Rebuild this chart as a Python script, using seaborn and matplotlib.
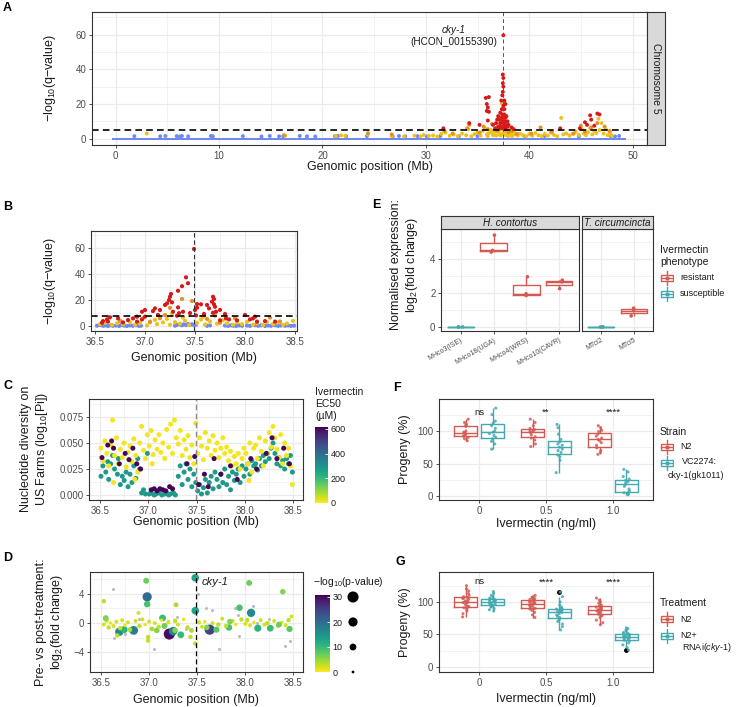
import numpy as np
import pandas as pd
import matplotlib
matplotlib.use("Agg")
import matplotlib as mpl
import matplotlib.pyplot as plt
import seaborn as sns
from matplotlib.ticker import MultipleLocator, FormatStrFormatter
from matplotlib.patches import Rectangle

# ---------------- A: chromosome 5 scan (Mb, -log10 q) ----------------
a_base_pos = [0.0, 0.4, 0.9, 1.4, 1.8, 2.3, 2.8, 3.3, 3.7, 4.2, 4.7, 5.1, 5.6, 6.1, 6.5, 7.0,
              7.5, 8.0, 8.4, 8.9, 9.4, 9.8, 10.3, 10.8, 11.2, 11.7, 12.2, 12.6, 13.1, 13.6,
              14.0, 14.5, 15.0, 15.5, 15.9, 16.4, 16.9, 17.3, 17.8, 18.3, 18.7, 19.2, 19.7,
              20.1, 20.6, 21.1, 21.5, 22.0, 22.5, 23.0, 23.4, 23.9, 24.4, 24.8, 25.3, 25.8,
              26.2, 26.7, 27.2, 27.6, 28.1, 28.6, 29.0, 29.5, 30.0, 30.5, 30.9, 31.4, 31.9,
              32.3, 32.8, 33.3, 33.7, 34.2, 34.7, 35.1, 35.6, 36.1, 36.5, 37.0, 37.5, 38.0,
              38.4, 38.9, 39.4, 39.8, 40.3, 40.8, 41.2, 41.7, 42.2, 42.6, 43.1, 43.6, 44.0,
              44.5, 45.0, 45.5, 45.9, 46.4, 46.9, 47.3, 47.8, 48.3, 48.7, 49.0]
a_blue = [(1.8, 1.5), (4.3, 1.4), (4.8, 1.6), (5.9, 1.5), (6.2, 1.3), (6.4, 1.6), (7.0, 1.4),
          (9.2, 1.6), (9.4, 1.4), (12.3, 1.5), (14.1, 1.3), (14.9, 1.6), (15.8, 1.4),
          (16.2, 1.5), (17.8, 1.6), (18.5, 1.4), (19.3, 1.3), (21.2, 1.5), (21.5, 1.6),
          (22.3, 1.4), (24.3, 1.5), (26.8, 1.3), (27.4, 1.6), (28.0, 1.4), (29.2, 1.5),
          (30.1, 1.3), (31.4, 1.6), (33.2, 1.4), (35.0, 1.5), (39.6, 1.3), (41.5, 1.6),
          (44.8, 1.4), (47.9, 1.5), (48.3, 1.3), (48.7, 1.6)]
a_gold = [(3.0, 3.0), (16.4, 1.8), (21.3, 1.6), (21.8, 2.0), (22.2, 1.7), (24.4, 2.5),
          (26.7, 1.5), (27.9, 1.3), (28.9, 1.8), (29.5, 1.4), (29.8, 2.2), (30.3, 1.6),
          (30.7, 1.9), (31.1, 1.2), (31.5, 2.8), (31.9, 3.5), (32.3, 1.7), (32.7, 2.4),
          (33.1, 1.5), (33.5, 3.0), (33.9, 2.0), (34.1, 5.5), (34.4, 1.4), (34.7, 2.7),
          (35.0, 3.8), (35.3, 1.8), (35.5, 4.5), (35.7, 6.0), (35.9, 2.5), (36.0, 1.5),
          (36.1, 3.2), (36.3, 5.0), (36.4, 3.6), (36.5, 2.0), (36.7, 3.8), (36.8, 1.8),
          (36.9, 6.5), (37.0, 4.0), (37.1, 2.5), (37.15, 3.3), (37.2, 8.0), (37.25, 1.9),
          (37.3, 5.5), (37.35, 20.5), (37.4, 13.0), (37.45, 3.0), (37.5, 2.8), (37.55, 7.5),
          (37.6, 11.0), (37.65, 4.0), (37.7, 2.2), (37.75, 4.5), (37.8, 6.0), (37.9, 3.5),
          (37.95, 1.5), (38.0, 5.0), (38.1, 2.0), (38.2, 3.2), (38.25, 6.5), (38.35, 1.5),
          (38.45, 2.5), (38.5, 4.0), (38.7, 2.5), (38.9, 1.8), (39.1, 3.0), (39.4, 2.0),
          (39.7, 1.4), (40.0, 2.6), (40.3, 1.7), (40.6, 3.3), (40.9, 2.0), (41.2, 1.5),
          (41.5, 2.8), (41.8, 1.8), (42.1, 3.5), (42.4, 2.2), (42.7, 1.5), (43.1, 12.0),
          (43.3, 2.5), (43.6, 3.0), (43.9, 1.8), (44.2, 2.8), (44.5, 4.0), (44.8, 2.2),
          (45.1, 5.5), (45.3, 3.0), (45.5, 2.0), (45.7, 3.8), (45.9, 6.0), (46.1, 2.5),
          (46.3, 4.5), (46.5, 3.2), (46.7, 11.5), (46.8, 5.0), (47.0, 9.0), (47.2, 3.0),
          (47.4, 5.5), (47.6, 2.0), (47.8, 3.5), (48.0, 1.8)]
a_orange = [(16.3, 2.0), (24.4, 3.2), (26.7, 2.5), (31.8, 4.5), (32.6, 3.0), (34.0, 6.0),
            (34.2, 8.0), (35.2, 3.5), (35.6, 7.0), (36.0, 5.5), (36.4, 8.5), (36.9, 4.8),
            (37.1, 7.2), (37.3, 9.5), (37.4, 17.0), (37.5, 12.5), (37.6, 6.5), (37.8, 9.0),
            (38.0, 3.8), (38.3, 4.5), (38.8, 2.8), (40.2, 3.0), (41.1, 6.5), (42.2, 4.0),
            (44.3, 3.0), (45.0, 7.5), (45.4, 4.0), (46.0, 6.5), (46.6, 9.0), (47.3, 7.0),
            (47.8, 4.5)]
a_red = [(37.5, 59.6), (37.45, 37.0), (37.5, 35.0), (37.45, 32.0), (37.5, 30.0), (37.45, 27.0),
         (37.4, 25.0), (35.8, 23.5), (36.1, 24.0), (35.9, 20.0), (36.0, 18.0), (37.3, 22.0),
         (37.6, 22.0), (37.7, 20.0), (37.5, 19.0), (37.35, 17.0), (37.6, 17.0), (35.9, 16.0),
         (36.1, 15.5), (37.2, 15.0), (37.4, 14.0), (37.6, 14.0), (37.8, 13.0), (37.0, 13.0),
         (37.3, 12.0), (37.5, 12.0), (37.7, 12.0), (36.9, 11.0), (37.1, 11.0), (37.4, 10.0),
         (37.6, 10.0), (37.9, 10.0), (36.0, 10.5), (36.8, 9.0), (37.2, 9.0), (37.5, 9.0),
         (37.7, 8.0), (38.0, 8.0), (36.5, 8.0), (37.0, 7.0), (37.3, 7.0), (37.6, 7.0),
         (37.9, 7.0), (38.3, 6.5), (36.7, 6.0), (37.1, 6.0), (37.4, 6.0), (37.7, 5.5),
         (38.5, 5.5), (35.2, 8.0), (34.2, 9.0), (31.7, 6.0), (43.0, 6.0), (45.4, 9.5),
         (45.9, 13.5), (46.0, 11.0), (46.6, 14.5), (46.8, 14.0), (45.6, 8.0), (46.3, 7.5),
         (44.9, 6.0)]
a_threshold = 5.2

# ---------------- B: zoom 36.5-38.5 Mb ----------------
b_blue = [(36.52, 0.3), (36.55, 0.8), (36.58, 0.2), (36.60, 0.5), (36.63, 0.0), (36.66, 0.6),
          (36.68, 0.2), (36.71, 0.4), (36.74, 0.1), (36.76, 0.7), (36.79, 0.3), (36.82, 0.0),
          (36.85, 0.5), (36.88, 0.2), (36.91, 0.6), (36.94, 0.1), (36.96, 0.3), (37.30, 0.3),
          (37.32, 0.9), (37.35, 1.2), (37.37, 0.6), (37.39, 1.4), (37.41, 0.8), (37.43, 1.5),
          (37.45, 1.0), (37.47, 1.3), (37.49, 0.7), (37.51, 1.1), (37.62, 0.2), (37.65, 0.5),
          (37.80, 0.4), (37.83, 0.1), (37.86, 0.6), (37.88, 0.3), (37.91, 0.0), (37.94, 0.5),
          (37.97, 0.2), (38.02, 0.4), (38.05, 0.1), (38.10, 0.6), (38.13, 0.2), (38.16, 0.5),
          (38.20, 0.0), (38.23, 0.4), (38.26, 0.2), (38.30, 0.6), (38.33, 0.1), (38.36, 0.4),
          (38.40, 0.2), (38.43, 0.5), (38.46, 0.1), (38.49, 0.3)]
b_gold = [(36.55, 1.5), (36.60, 2.5), (36.67, 0.8), (36.72, 2.0), (36.78, 1.2), (36.85, 3.0),
          (36.90, 1.0), (36.95, 2.2), (37.02, 0.5), (37.05, 3.5), (37.12, 1.5), (37.18, 2.8),
          (37.22, 5.5), (37.25, 1.0), (37.30, 3.0), (37.35, 1.8), (37.40, 4.0), (37.44, 0.8),
          (37.52, 2.5), (37.56, 5.0), (37.60, 1.2), (37.65, 3.5), (37.72, 1.8), (37.78, 4.5),
          (37.82, 2.0), (37.88, 1.0), (37.92, 2.8), (37.97, 1.5), (38.02, 3.2), (38.08, 1.0),
          (38.12, 2.2), (38.18, 0.8), (38.22, 3.0), (38.28, 1.5), (38.32, 2.5), (38.38, 1.0),
          (38.42, 2.0), (38.48, 4.0), (37.10, 4.8), (36.98, 6.0), (37.58, 7.0), (37.27, 9.5),
          (37.38, 6.5)]
b_orange = [(37.37, 20.8), (37.47, 19.2), (37.25, 14.0), (37.20, 8.5), (37.62, 5.5),
            (37.90, 6.0), (38.25, 6.5), (36.75, 4.0), (37.05, 3.0), (37.75, 2.5), (38.35, 3.5),
            (37.15, 6.0), (37.70, 8.0)]
b_red = [(37.49, 59.2), (37.41, 37.4), (37.43, 32.9), (37.37, 30.6), (37.33, 27.1),
         (37.26, 24.6), (37.25, 22.5), (37.24, 20.0), (37.22, 17.4), (37.20, 16.2),
         (37.10, 13.6), (37.08, 11.5), (37.00, 12.3), (36.97, 11.0), (36.92, 7.2), (36.88, 5.9),
         (37.33, 14.3), (37.28, 11.0), (37.27, 18.2), (37.52, 16.9), (37.52, 14.1), (37.50, 12.3),
         (37.56, 16.7), (37.62, 16.2), (37.68, 22.5), (37.69, 20.7), (37.67, 18.7), (37.69, 16.7),
         (37.70, 14.8), (37.64, 13.6), (37.71, 11.0), (37.68, 10.2), (37.75, 12.4), (37.80, 9.3),
         (37.81, 5.9), (37.75, 4.4), (37.59, 9.3), (37.51, 8.2), (37.45, 10.0), (37.38, 11.0),
         (37.34, 9.9), (37.32, 7.9), (37.13, 8.5), (37.15, 12.3), (37.00, 7.2), (36.97, 5.1),
         (36.92, 3.4), (36.83, 4.6), (36.78, 2.8), (36.73, 5.9), (36.65, 6.7), (36.62, 5.1),
         (36.58, 3.8), (36.57, 2.6), (36.63, 3.4), (38.00, 8.5), (38.08, 5.9), (38.12, 3.4),
         (38.20, 3.8), (38.05, 5.1), (37.92, 4.4), (37.84, 5.1), (38.30, 3.4), (38.10, 7.2)]
b_threshold = 7.7

# ---------------- C: nucleotide diversity, coloured by pool EC50 ----------------
c_ec50 = [12, 285, 610]          # low / mid / high EC50 pools (uM)
c_low = [(36.51, 0.045), (36.53, 0.033), (36.55, 0.052), (36.57, 0.040), (36.59, 0.028),
         (36.61, 0.048), (36.63, 0.072), (36.65, 0.038), (36.67, 0.055), (36.69, 0.030),
         (36.64, 0.012), (36.71, 0.044), (36.73, 0.036), (36.75, 0.050), (36.77, 0.027),
         (36.79, 0.041), (36.81, 0.047), (36.83, 0.032), (36.85, 0.054), (36.87, 0.038),
         (36.89, 0.022), (36.86, 0.015), (36.91, 0.050), (36.93, 0.066), (36.95, 0.043),
         (36.97, 0.035), (36.99, 0.058), (37.01, 0.047), (37.03, 0.062), (37.05, 0.039),
         (37.07, 0.053), (37.09, 0.044), (37.04, 0.030), (37.11, 0.058), (37.13, 0.041),
         (37.15, 0.050), (37.17, 0.035), (37.19, 0.063), (37.21, 0.046), (37.23, 0.068),
         (37.25, 0.040), (37.27, 0.072), (37.29, 0.055), (37.31, 0.049), (37.33, 0.062),
         (37.35, 0.038), (37.37, 0.053), (37.39, 0.044), (37.41, 0.057), (37.43, 0.036),
         (37.45, 0.048), (37.47, 0.030), (37.49, 0.069), (37.51, 0.040), (37.53, 0.055),
         (37.55, 0.047), (37.57, 0.034), (37.59, 0.060), (37.61, 0.045), (37.63, 0.052),
         (37.65, 0.038), (37.67, 0.057), (37.69, 0.043), (37.71, 0.050), (37.73, 0.036),
         (37.75, 0.045), (37.77, 0.055), (37.79, 0.040), (37.81, 0.046), (37.83, 0.033),
         (37.85, 0.042), (37.87, 0.028), (37.89, 0.037), (37.91, 0.030), (37.93, 0.040),
         (37.95, 0.025), (37.97, 0.035), (37.99, 0.045), (38.01, 0.040), (38.03, 0.030),
         (38.05, 0.050), (38.07, 0.022), (38.09, 0.045), (38.04, 0.014), (38.11, 0.048),
         (38.13, 0.035), (38.15, 0.055), (38.17, 0.042), (38.19, 0.028), (38.21, 0.052),
         (38.23, 0.040), (38.25, 0.060), (38.27, 0.046), (38.29, 0.066), (38.31, 0.055),
         (38.33, 0.044), (38.35, 0.036), (38.37, 0.058), (38.39, 0.030), (38.41, 0.050),
         (38.43, 0.038), (38.45, 0.045), (38.47, 0.028), (38.49, 0.010)]
c_mid = [(36.51, 0.018), (36.53, 0.028), (36.56, 0.022), (36.58, 0.032), (36.59, 0.015),
         (36.61, 0.030), (36.63, 0.038), (36.65, 0.025), (36.68, 0.020), (36.69, 0.035),
         (36.71, 0.010), (36.73, 0.018), (36.75, 0.014), (36.77, 0.022), (36.79, 0.008),
         (36.81, 0.020), (36.83, 0.012), (36.85, 0.028), (36.87, 0.016), (36.89, 0.035),
         (36.91, 0.025), (36.93, 0.002), (36.95, 0.005), (36.97, 0.001), (36.99, 0.040),
         (37.01, 0.001), (37.03, 0.002), (37.06, 0.000), (37.08, 0.001), (37.11, 0.002),
         (37.14, 0.000), (37.17, 0.001), (37.19, 0.002), (37.21, 0.000), (37.23, 0.001),
         (37.26, 0.002), (37.28, 0.000), (37.31, 0.018), (37.33, 0.028), (37.35, 0.010),
         (37.37, 0.022), (37.39, 0.030), (37.41, 0.015), (37.43, 0.025), (37.45, 0.008),
         (37.47, 0.020), (37.49, 0.012), (37.51, 0.004), (37.53, 0.010), (37.55, 0.001),
         (37.57, 0.007), (37.59, 0.015), (37.61, 0.002), (37.63, 0.012), (37.65, 0.018),
         (37.67, 0.006), (37.69, 0.022), (37.71, 0.015), (37.73, 0.008), (37.75, 0.020),
         (37.77, 0.012), (37.79, 0.025), (37.81, 0.010), (37.83, 0.018), (37.85, 0.005),
         (37.87, 0.022), (37.89, 0.014), (37.91, 0.020), (37.93, 0.025), (37.95, 0.012),
         (37.97, 0.028), (37.99, 0.018), (38.01, 0.025), (38.03, 0.030), (38.05, 0.020),
         (38.07, 0.033), (38.09, 0.028), (38.11, 0.030), (38.13, 0.024), (38.15, 0.035),
         (38.17, 0.028), (38.19, 0.038), (38.21, 0.032), (38.23, 0.040), (38.25, 0.035),
         (38.27, 0.045), (38.29, 0.050), (38.31, 0.040), (38.33, 0.030), (38.35, 0.036),
         (38.37, 0.028), (38.39, 0.033), (38.41, 0.025), (38.43, 0.035), (38.45, 0.030),
         (38.47, 0.038), (38.49, 0.022)]
c_high = [(36.52, 0.036), (36.58, 0.048), (36.62, 0.052), (36.64, 0.045), (36.70, 0.030),
          (36.76, 0.040), (36.80, 0.034), (36.84, 0.045), (36.88, 0.030), (36.92, 0.025),
          (37.03, 0.005), (37.06, 0.006), (37.09, 0.004), (37.12, 0.006), (37.15, 0.005),
          (37.18, 0.004), (37.22, 0.008), (37.25, 0.006), (37.40, 0.030), (37.48, 0.037),
          (37.52, 0.010), (37.58, 0.020), (37.62, 0.008), (37.68, 0.035), (37.75, 0.020),
          (37.85, 0.028), (37.92, 0.015), (38.06, 0.035), (38.12, 0.025), (38.22, 0.040),
          (38.28, 0.055), (38.33, 0.035), (38.40, 0.045), (38.46, 0.030)]

# ---------------- D: pre vs post treatment fold change ----------------
d_sig = [(37.48, 6.2, 13), (36.97, 5.8, 7), (36.98, 3.6, 20), (36.98, 2.6, 9), (36.53, 3.0, 3),
         (37.28, 2.5, 4), (38.04, 5.5, 7), (38.39, 4.3, 6), (37.94, 2.1, 9), (38.06, 1.4, 16),
         (37.48, 1.7, 13), (36.89, 1.4, 2), (37.14, 0.7, 10), (37.21, -1.5, 30), (37.25, -1.1, 17),
         (37.63, -0.9, 25), (36.84, -1.0, 18), (36.69, -1.2, 16), (36.74, -0.9, 11),
         (37.33, -1.6, 10), (38.13, -0.7, 11), (38.26, -0.7, 10), (38.46, -0.8, 8),
         (37.83, -0.6, 9), (37.70, -0.9, 8), (36.55, 0.6, 6), (36.99, -1.9, 3), (36.99, -2.4, 3),
         (37.43, -1.9, 3), (37.48, -2.8, 3), (36.67, -1.7, 3), (37.08, -1.0, 6), (37.60, -0.6, 6),
         (37.27, -1.0, 6), (36.53, -0.2, 2), (36.56, 0.3, 2), (36.58, -0.6, 3), (36.60, 0.0, 1),
         (36.63, -0.4, 2), (36.66, 0.2, 2), (36.70, -0.7, 3), (36.72, 0.4, 2), (36.75, -0.3, 1),
         (36.78, 0.1, 2), (36.80, -0.9, 4), (36.86, 0.3, 2), (36.90, -0.4, 3), (36.93, 0.5, 2),
         (36.96, -0.2, 1), (37.00, 0.2, 2), (37.03, -0.8, 4), (37.06, 0.0, 2), (37.10, -0.5, 3),
         (37.13, 0.4, 1), (37.17, -0.3, 2), (37.20, 0.1, 2), (37.27, 0.3, 3), (37.30, -0.2, 2),
         (37.36, 0.5, 1), (37.40, -0.6, 3), (37.44, -1.0, 4), (37.52, 0.1, 2), (37.55, -0.5, 2),
         (37.58, 0.2, 1), (37.66, 0.0, 2), (37.72, -0.2, 3), (37.76, 0.6, 2), (37.80, -0.4, 3),
         (37.87, 0.3, 2), (37.90, -0.2, 1), (37.96, 0.5, 3), (38.00, -0.1, 2), (38.02, 0.4, 3),
         (38.05, -0.3, 2), (38.09, 0.1, 1), (38.16, 0.4, 2), (38.20, -0.2, 2), (38.23, 0.0, 3),
         (38.30, 0.3, 2), (38.34, -0.4, 2), (38.38, 0.1, 1), (38.42, -0.3, 2), (38.45, 0.4, 3),
         (38.48, 0.9, 2), (36.55, 0.7, 6), (37.16, -0.4, 7), (37.84, 0.2, 6), (38.35, -0.2, 7)]
d_ns = [(36.62, 4.7), (37.59, 2.0), (37.51, 4.0), (37.05, -3.5), (37.73, -3.6), (38.41, -3.1),
        (38.47, -2.4), (37.89, 2.1), (37.92, 1.1), (37.93, -1.7), (37.29, 0.9), (36.64, -2.0),
        (36.90, 0.5), (38.12, 0.0), (37.20, 0.3), (37.65, 1.8), (38.08, 2.4), (38.25, 0.5),
        (36.75, -1.5), (37.38, -0.8)]

# ---------------- E: cky-1 expression ----------------
e_hc_strains = ["MHco3(ISE)", "MHco18(UGA)", "MHco4(WRS)", "MHco10(CAVR)"]
e_tc_strains = ["MTci2", "MTci5"]
e_phenotype = {"MHco3(ISE)": "susceptible", "MHco18(UGA)": "resistant", "MHco4(WRS)": "resistant",
               "MHco10(CAVR)": "resistant", "MTci2": "susceptible", "MTci5": "resistant"}
e_mhco3 = [0.0, 0.0, 0.0]
e_mhco18 = [4.40, 4.50, 5.40]
e_mhco4 = [1.85, 1.95, 2.95]
e_mhco10 = [2.25, 2.65, 2.75]
e_mtci2 = [0.0, 0.0, 0.0]
e_mtci5 = [0.65, 0.95, 1.10]

# ---------------- F / G: C. elegans progeny on ivermectin ----------------
doses = ["0", "0.5", "1.0"]
f_n2_0 = [85, 88, 90, 92, 93, 95, 96, 97, 98, 100, 107, 109, 110, 113, 118]
f_vc_0 = [72, 80, 84, 88, 90, 93, 96, 98, 100, 104, 108, 112, 115, 125, 135]
f_n2_05 = [76, 80, 86, 89, 91, 94, 97, 99, 100, 101, 102, 104, 108, 113, 118]
f_vc_05 = [36, 55, 60, 63, 67, 70, 72, 75, 78, 80, 83, 87, 95, 105, 110]
f_n2_10 = [64, 67, 70, 74, 78, 82, 85, 87, 89, 92, 95, 99, 101, 105, 108]
f_vc_10 = [2, 3, 5, 6, 8, 11, 15, 18, 20, 22, 24, 26, 30, 37, 41]
f_signif = ["ns", "**", "****"]

g_n2_0 = [77, 82, 86, 89, 91, 92, 93, 94, 96, 98, 99, 100, 101, 102, 104, 105, 106, 107, 108,
          110, 113, 117, 120, 125]
g_rnai_0 = [86, 88, 90, 92, 93, 94, 95, 96, 97, 98, 99, 99, 100, 101, 102, 103, 104, 104, 105,
            106, 108, 110, 113, 116]
g_n2_05 = [76, 80, 84, 87, 89, 90, 91, 93, 94, 95, 96, 97, 98, 99, 100, 101, 102, 103, 104,
           105, 106, 107, 108, 110]
g_rnai_05 = [57, 62, 66, 70, 73, 75, 76, 78, 80, 82, 84, 85, 85, 86, 87, 88, 89, 89, 90, 92,
             95, 100, 108, 115]
g_n2_10 = [65, 68, 72, 76, 79, 80, 81, 82, 84, 85, 86, 87, 88, 89, 90, 91, 92, 93, 94, 95, 98,
           100, 103, 106]
g_rnai_10 = [26, 30, 34, 37, 40, 41, 42, 43, 44, 45, 45, 46, 47, 47, 48, 49, 50, 51, 52, 53,
             55, 57, 59, 60]
g_signif = ["ns", "****", "****"]

# ---------------- style ----------------
BLUE, GOLD, ORANGE, RED = "#7089F2", "#EEC21B", "#E58F26", "#D7191C"
C_RED, C_TEAL = "#D35A53", "#43A9AE"
plt.rcParams["font.family"] = "Liberation Sans"
plt.rcParams["mathtext.fontset"] = "custom"
plt.rcParams["mathtext.rm"] = "Liberation Sans"
plt.rcParams["mathtext.it"] = "Liberation Sans:italic"

W, H = 739, 707
fig = plt.figure(figsize=(W / 100, H / 100), dpi=100)


def px_axes(l, t, r, b):
    return fig.add_axes([l / W, 1 - b / H, (r - l) / W, (b - t) / H])


def ftext(x, y, s, **kw):
    kw.setdefault("color", "#1A1A1A")
    fig.text(x / W, 1 - y / H, s, **kw)


def theme_bw(ax, xmaj=None, xmin=None, ymaj=None, ymin=None):
    ax.set_facecolor("white")
    for sp in ax.spines.values():
        sp.set_color("#333333")
        sp.set_linewidth(0.8)
    if xmaj:
        ax.xaxis.set_major_locator(MultipleLocator(xmaj))
    if xmin:
        ax.xaxis.set_minor_locator(MultipleLocator(xmin))
    if ymaj:
        ax.yaxis.set_major_locator(MultipleLocator(ymaj))
    if ymin:
        ax.yaxis.set_minor_locator(MultipleLocator(ymin))
    ax.grid(True, which="major", color="#EBEBEB", linewidth=0.9)
    ax.grid(True, which="minor", color="#EBEBEB", linewidth=0.45)
    ax.set_axisbelow(True)
    ax.tick_params(which="major", length=2.5, width=0.6, color="#333333",
                   labelcolor="#4D4D4D", labelsize=7, pad=1.5)
    ax.tick_params(which="minor", length=0)
    ax.set_xlabel("")
    ax.set_ylabel("")


def scan_df(groups):
    frames = [pd.DataFrame(pts, columns=["pos", "q"]).assign(cls=name) for name, pts in groups]
    return pd.concat(frames, ignore_index=True)


scan_pal = {"blue": BLUE, "gold": GOLD, "orange": ORANGE, "red": RED}
flat_marker = [(-1, -0.28), (1, -0.28), (1, 0.28), (-1, 0.28)]

# ---------------- panel A ----------------
axA = px_axes(92, 12, 647, 145)
sns.scatterplot(x=a_base_pos, y=[0.0] * len(a_base_pos), marker=flat_marker, s=34, color=BLUE,
                linewidth=0, ax=axA)
a_df = scan_df([("blue", a_blue), ("gold", a_gold), ("orange", a_orange), ("red", a_red)])
sns.scatterplot(data=a_df, x="pos", y="q", hue="cls", palette=scan_pal, s=8, linewidth=0,
                legend=False, ax=axA)
axA.axhline(a_threshold, color="black", lw=1.2, ls=(0, (4, 2.5)))
axA.axvline(37.5, color="#555555", lw=0.7, ls=(0, (4, 3)))
axA.text(32.7, 62.5, "cky-1", style="italic", ha="center", va="center", fontsize=7.2, color="#1A1A1A")
axA.text(32.7, 55.5, "(HCON_00155390)", ha="center", va="center", fontsize=7.2, color="#1A1A1A")
axA.set_xlim(-2.3, 51.4)
axA.set_ylim(-3.6, 73)
theme_bw(axA, 10, 5, 20, 10)
stA = px_axes(647, 12, 665, 145)
stA.set_facecolor("#D9D9D9")
stA.set_xticks([])
stA.set_yticks([])
for sp in stA.spines.values():
    sp.set_color("#333333")
    sp.set_linewidth(0.8)
stA.text(0.5, 0.5, "Chromosome 5", rotation=-90, ha="center", va="center", fontsize=7.5,
         color="#1A1A1A", transform=stA.transAxes)
ftext(370, 167, "Genomic position (Mb)", ha="center", va="center", fontsize=9)
ftext(50, 78, "\u2212log$_{10}$(q\u2212value)", ha="center", va="center", rotation=90, fontsize=9)

# ---------------- panel B ----------------
axB = px_axes(91, 231, 297, 331)
b_df = scan_df([("blue", b_blue), ("gold", b_gold), ("orange", b_orange), ("red", b_red)])
sns.scatterplot(data=b_df, x="pos", y="q", hue="cls", palette=scan_pal, s=9, linewidth=0,
                legend=False, ax=axB)
axB.axhline(b_threshold, color="black", lw=1.2, ls=(0, (4, 2.5)))
axB.axvline(37.49, color="#333333", lw=0.8, ls=(0, (4, 2.5)))
axB.set_xlim(36.46, 38.52)
axB.set_ylim(-3.8, 73)
theme_bw(axB, 0.5, 0.25, 20, 10)
axB.xaxis.set_major_formatter(FormatStrFormatter("%.1f"))
ftext(194, 358, "Genomic position (Mb)", ha="center", va="center", fontsize=9)
ftext(50, 281, "\u2212log$_{10}$(q\u2212value)", ha="center", va="center", rotation=90, fontsize=9)

# ---------------- panel C ----------------
axC = px_axes(89, 399, 303, 500)
c_df = pd.concat([pd.DataFrame(pts, columns=["pos", "pi"]).assign(ec50=v)
                  for pts, v in [(c_mid, c_ec50[1]), (c_low, c_ec50[0]), (c_high, c_ec50[2])]],
                 ignore_index=True)
sns.scatterplot(data=c_df, x="pos", y="pi", hue="ec50", palette="viridis_r", hue_norm=(0, 615),
                s=13, linewidth=0, legend=False, ax=axC)
axC.axvline(37.49, color="#8C8C8C", lw=1.0, ls=(0, (4, 2.5)))
axC.set_xlim(36.386, 38.60)
axC.set_ylim(-0.0048, 0.0923)
theme_bw(axC, 0.5, 0.25, 0.025, 0.0125)
axC.xaxis.set_major_formatter(FormatStrFormatter("%.1f"))
axC.yaxis.set_major_formatter(FormatStrFormatter("%.3f"))
ftext(196, 522, "Genomic position (Mb)", ha="center", va="center", fontsize=9)
ftext(35, 449, "Nucleotide diversity on\nUS Farms (log$_{10}$[Pi])", ha="center", va="center",
      rotation=90, fontsize=9, linespacing=1.25)
caxC = px_axes(315, 427, 328, 503)
cbC = fig.colorbar(mpl.cm.ScalarMappable(norm=mpl.colors.Normalize(0, 615), cmap="viridis_r"),
                   cax=caxC, ticks=[0, 200, 400, 600])
cbC.outline.set_visible(False)
caxC.tick_params(labelsize=6.5, length=2.5, width=0.6, color="white", direction="in", pad=2,
                 labelcolor="#1A1A1A")
ftext(315, 392, "Ivermectin", ha="left", va="center", fontsize=7.5)
ftext(315, 404, "EC50", ha="left", va="center", fontsize=7.5)
ftext(315, 416, "(\u00b5M)", ha="left", va="center", fontsize=7.5)

# ---------------- panel D ----------------
axD = px_axes(90, 572, 303, 672)
dns_df = pd.DataFrame(d_ns, columns=["pos", "fc"])
sns.scatterplot(data=dns_df, x="pos", y="fc", color="#BDBDBD", s=5, linewidth=0, ax=axD)
d_df = pd.DataFrame(d_sig, columns=["pos", "fc", "p"])
sns.scatterplot(data=d_df, x="pos", y="fc", hue="p", size="p", palette="viridis_r",
                hue_norm=(0, 31), sizes=(4, 64), size_norm=(0, 30), linewidth=0,
                legend=False, ax=axD)
axD.axvline(37.49, color="black", lw=0.9, ls=(0, (4, 2.5)))
axD.text(37.55, 5.6, "cky-1", style="italic", ha="left", va="center", fontsize=8, color="#1A1A1A")
axD.set_xlim(36.386, 38.60)
axD.set_ylim(-6.7, 7.0)
theme_bw(axD, 0.5, 0.25, 4, 2)
axD.xaxis.set_major_formatter(FormatStrFormatter("%.1f"))
ftext(196, 700, "Genomic position (Mb)", ha="center", va="center", fontsize=9)
ftext(50, 622, "Pre- vs post-treatment:\nlog$_{2}$(fold change)", ha="center", va="center",
      rotation=90, fontsize=9, linespacing=1.25)
caxD = px_axes(315, 595, 330, 672)
cbD = fig.colorbar(mpl.cm.ScalarMappable(norm=mpl.colors.Normalize(0, 30.8), cmap="viridis_r"),
                   cax=caxD, ticks=[0, 10, 20, 30])
cbD.outline.set_visible(False)
caxD.tick_params(labelsize=6.5, length=2.5, width=0.6, color="white", direction="in", pad=2,
                 labelcolor="#1A1A1A")
ftext(313, 582, "\u2212log$_{10}$(p-value)", ha="left", va="center", fontsize=7.5)
axS = px_axes(343, 590, 363, 679)
size_keys = [0, 10, 20, 30]
sns.scatterplot(x=[0.5] * len(size_keys), y=size_keys, size=size_keys, sizes=(4, 64),
                size_norm=(0, 30), color="black", linewidth=0, legend=False, ax=axS)
axS.set_xlim(0, 1)
axS.set_ylim(-2.8, 32.8)
axS.axis("off")

# ---------------- panel E ----------------
e_df = pd.concat([pd.DataFrame({"strain": s, "expr": v, "phen": e_phenotype[s]})
                  for s, v in zip(e_hc_strains + e_tc_strains,
                                  [e_mhco3, e_mhco18, e_mhco4, e_mhco10, e_mtci2, e_mtci5])],
                 ignore_index=True)
phen_pal = {"resistant": C_RED, "susceptible": C_TEAL}
for (l, r), strains, title in [((441, 579), e_hc_strains, "H. contortus"),
                               ((582, 653), e_tc_strains, "T. circumcincta")]:
    ax = px_axes(l, 229, r, 331)
    sub = e_df[e_df["strain"].isin(strains)]
    sns.boxplot(data=sub, x="strain", y="expr", hue="phen", order=strains,
                hue_order=["resistant", "susceptible"], palette=phen_pal, dodge=False,
                fill=False, width=0.8, linewidth=1.0, showcaps=False, showfliers=False,
                legend=False, ax=ax)
    sns.stripplot(data=sub, x="strain", y="expr", hue="phen", order=strains,
                  hue_order=["resistant", "susceptible"], palette=phen_pal, dodge=False,
                  jitter=0.1, size=2.6, linewidth=0, legend=False, ax=ax)
    ax.set_xlim(-0.6, len(strains) - 0.4)
    ax.set_ylim(-0.24, 5.76)
    theme_bw(ax, None, None, 2, 1)
    ax.tick_params(axis="x", labelsize=5)
    for lab in ax.get_xticklabels():
        lab.set_rotation(30)
        lab.set_ha("right")
        lab.set_rotation_mode("anchor")
    if l > 500:
        ax.tick_params(axis="y", labelleft=False, length=0)
    st = px_axes(l, 216, r, 229)
    st.set_facecolor("#D9D9D9")
    st.set_xticks([])
    st.set_yticks([])
    for sp in st.spines.values():
        sp.set_color("#333333")
        sp.set_linewidth(0.8)
    st.text(0.5, 0.5, title, style="italic", ha="center", va="center", fontsize=7.2,
            color="#1A1A1A", transform=st.transAxes)
ftext(405, 265, "Normalised expression:\nlog$_{2}$(fold change)", ha="center", va="center",
      rotation=90, fontsize=9, linespacing=1.25)


def box_key(x, y, color):
    k = px_axes(x - 7, y - 8, x + 7, y + 8)
    k.set_xlim(0, 1)
    k.set_ylim(0, 1)
    k.axis("off")
    k.add_patch(Rectangle((0.08, 0.3), 0.84, 0.4, fill=False, edgecolor=color, lw=1.0))
    k.plot([0.08, 0.92], [0.5, 0.5], color=color, lw=1.0)
    k.plot([0.5, 0.5], [0.7, 0.95], color=color, lw=1.0)
    k.plot([0.5, 0.5], [0.05, 0.3], color=color, lw=1.0)
    k.plot([0.5], [0.5], "o", color=color, ms=2)


ftext(660, 250, "Ivermectin", ha="left", va="center", fontsize=7.5)
ftext(660, 262, "phenotype", ha="left", va="center", fontsize=7.5)
box_key(667, 278, C_RED)
box_key(667, 294, C_TEAL)
ftext(680, 278, "resistant", ha="left", va="center", fontsize=6.5)
ftext(680, 294, "susceptible", ha="left", va="center", fontsize=6.5)


# ---------------- panels F and G ----------------
def progeny_panel(top, bottom, groups, labels, signif, ylim, sig_y):
    ax = px_axes(439, top, 653, bottom)
    df = pd.concat([pd.DataFrame({"dose": d, "grp": g, "prog": v}) for d, g, v in groups],
                   ignore_index=True)
    pal = {labels[0]: C_RED, labels[1]: C_TEAL}
    sns.boxplot(data=df, x="dose", y="prog", hue="grp", order=doses, hue_order=labels,
                palette=pal, dodge=True, fill=False, width=0.8, gap=0.15, linewidth=1.0,
                showcaps=False, flierprops={"marker": "o", "markersize": 2.5},
                legend=False, ax=ax)
    for ln in ax.lines:
        if ln.get_linestyle() in ("None", "none", ""):
            ln.set_color("black")
            ln.set_markerfacecolor("black")
            ln.set_markeredgecolor("black")
    sns.stripplot(data=df, x="dose", y="prog", hue="grp", order=doses, hue_order=labels,
                  palette=pal, dodge=True, jitter=0.1, size=2.2, linewidth=0, alpha=0.85,
                  legend=False, ax=ax)
    for i, s in enumerate(signif):
        ax.text(i, sig_y, s, ha="center", va="center", fontsize=6.8, color="#1A1A1A")
    ax.set_xlim(-0.6, 2.6)
    ax.set_ylim(*ylim)
    theme_bw(ax, None, None, 50, 25)
    return ax


progeny_panel(399, 500, [("0", "N2", f_n2_0), ("0", "VC", f_vc_0), ("0.5", "N2", f_n2_05),
                         ("0.5", "VC", f_vc_05), ("1.0", "N2", f_n2_10), ("1.0", "VC", f_vc_10)],
              ["N2", "VC"], f_signif, (-6, 149), 129)
ftext(546, 524, "Ivermectin (ng/ml)", ha="center", va="center", fontsize=9)
ftext(405, 449, "Progeny (%)", ha="center", va="center", rotation=90, fontsize=9)
ftext(660, 432, "Strain", ha="left", va="center", fontsize=7.5)
box_key(667, 447, C_RED)
box_key(667, 463, C_TEAL)
ftext(680, 447, "N2", ha="left", va="center", fontsize=6.5)
ftext(682, 462, "VC2274:", ha="left", va="center", fontsize=6.5)
ftext(668, 476, "cky-1(gk1011)", ha="left", va="center", fontsize=6.5)

progeny_panel(572, 672, [("0", "N2", g_n2_0), ("0", "RNAi", g_rnai_0), ("0.5", "N2", g_n2_05),
                         ("0.5", "RNAi", g_rnai_05), ("1.0", "N2", g_n2_10),
                         ("1.0", "RNAi", g_rnai_10)],
              ["N2", "RNAi"], g_signif, (-7.7, 146), 131)
ftext(546, 699, "Ivermectin (ng/ml)", ha="center", va="center", fontsize=9)
ftext(405, 622, "Progeny (%)", ha="center", va="center", rotation=90, fontsize=9)
ftext(660, 603, "Treatment", ha="left", va="center", fontsize=7.5)
box_key(667, 619, C_RED)
box_key(667, 636, C_TEAL)
ftext(680, 619, "N2", ha="left", va="center", fontsize=6.5)
ftext(680, 636, "N2+", ha="left", va="center", fontsize=6.5)
ftext(682, 648, "RNAi($\\it{cky}$-$\\it{1}$)", ha="left", va="center", fontsize=6.5)

# ---------------- panel letters ----------------
for letter, (x, y) in {"A": (3, 8), "B": (3, 207), "C": (3, 386), "D": (3, 558),
                       "E": (372, 205), "F": (393, 388), "G": (395, 562)}.items():
    ftext(x, y, letter, ha="left", va="center", fontsize=9, fontweight="bold", color="black")

fig.savefig("out.png", dpi=100)
